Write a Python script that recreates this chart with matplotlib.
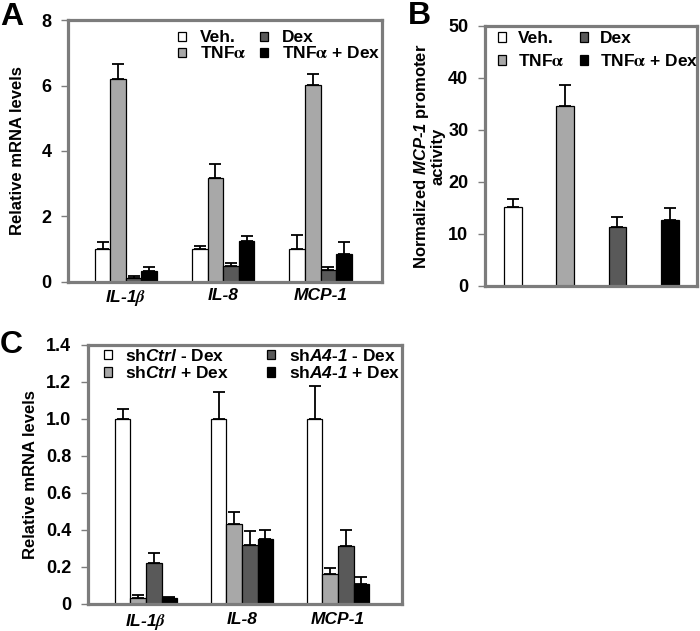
import numpy as np
import matplotlib
matplotlib.use("Agg")
import matplotlib.pyplot as plt

plt.rcParams['font.family'] = ['Liberation Sans', 'DejaVu Sans']
plt.rcParams['font.weight'] = 'bold'
plt.rcParams['mathtext.fontset'] = 'custom'
plt.rcParams['mathtext.rm'] = 'Liberation Sans:italic:bold'
plt.rcParams['mathtext.it'] = 'Liberation Sans:italic:bold'
plt.rcParams['mathtext.cal'] = 'STIXGeneral'
plt.rcParams['mathtext.sf'] = 'STIXGeneral:italic'

# panel A
genes = [r'IL-1$\mathsf{\beta}$', 'IL-8', 'MCP-1']
labels_a = ['Veh.', r'TNF$\mathcal{\alpha}$', 'Dex', r'TNF$\mathcal{\alpha}$ + Dex']
veh = [1.0, 1.0, 1.0]
veh_err = [0.23, 0.11, 0.42]
tnf = [6.2, 3.17, 6.02]
tnf_err = [0.45, 0.44, 0.32]
dex = [0.13, 0.48, 0.37]
dex_err = [0.04, 0.1, 0.09]
tnf_dex = [0.35, 1.24, 0.87]
tnf_dex_err = [0.1, 0.15, 0.36]

# panel B
vals_b = [15.1, 34.6, 11.3, 12.7]
errs_b = [1.6, 4.0, 2.0, 2.2]

# panel C
labels_c = [r'sh$\mathit{Ctrl}$ - Dex', r'sh$\mathit{Ctrl}$ + Dex',
            r'sh$\mathit{A4}$-$\mathit{1}$ - Dex', r'sh$\mathit{A4}$-$\mathit{1}$ + Dex']
ctrl_m = [1.0, 1.0, 1.0]
ctrl_m_err = [0.053, 0.145, 0.18]
ctrl_p = [0.032, 0.434, 0.162]
ctrl_p_err = [0.015, 0.064, 0.035]
a4_m = [0.22, 0.318, 0.315]
a4_m_err = [0.057, 0.076, 0.083]
a4_p = [0.03, 0.353, 0.11]
a4_p_err = [0.006, 0.045, 0.036]

colors = ['white', '#a8a8a8', '#595959', 'black']
frame = '#7c7c7c'


def style(ax):
    for s in ax.spines.values():
        s.set_color(frame)
        s.set_linewidth(2.3)
    ax.tick_params(axis='y', direction='out', length=5, width=1, color=frame,
                   pad=7, labelsize=13)
    for t in ax.get_yticklabels():
        t.set_fontweight('bold')


def bars(ax, x, series, errs, width, labels):
    for i, (v, e) in enumerate(zip(series, errs)):
        ax.bar(x + (i - 1.5) * width, v, width, color=colors[i], edgecolor='black',
               linewidth=0.9, label=labels[i],
               yerr=[np.zeros(len(e)), e],
               error_kw=dict(ecolor='black', elinewidth=1.3, capsize=4, capthick=1.3))


fig = plt.figure(figsize=(7, 6.31), dpi=100)

# A
ax = fig.add_axes([0.0971, 0.5531, 0.4486, 0.4152])
x = np.arange(3)
bars(ax, x, [veh, tnf, dex, tnf_dex], [veh_err, tnf_err, dex_err, tnf_dex_err], 0.16, labels_a)
ax.set_xlim(-0.595, 2.63)
ax.set_ylim(0, 8)
ax.set_yticks([0, 2, 4, 6, 8])
ax.set_xticks(x)
ax.set_xticklabels(genes, fontstyle='italic', fontweight='bold', fontsize=12.5)
ax.tick_params(axis='x', length=0, pad=4)
style(ax)
ax.set_ylabel('Relative mRNA levels', fontsize=12, fontweight='bold', labelpad=12)
ax.legend(ncol=2, loc='upper left', bbox_to_anchor=(0.35, 0.96), frameon=False,
          fontsize=12.5, handlelength=0.45, handleheight=0.45, handletextpad=0.8,
          columnspacing=0.8, labelspacing=0.0, borderpad=0, borderaxespad=0)

# B
ax = fig.add_axes([0.6929, 0.5468, 0.3029, 0.4120])
xb = np.arange(4)
for i in range(4):
    ax.bar(xb[i], vals_b[i], 0.34, color=colors[i], edgecolor='black', linewidth=0.9,
           label=labels_a[i], yerr=[[0], [errs_b[i]]],
           error_kw=dict(ecolor='black', elinewidth=1.3, capsize=4.5, capthick=1.3))
ax.set_xlim(-0.53, 3.52)
ax.set_ylim(0, 50)
ax.set_yticks([0, 10, 20, 30, 40, 50])
ax.set_xticks([])
style(ax)
ax.set_ylabel('Normalized $\\mathit{MCP}$-$\\mathit{1}$ promoter\nactivity', fontsize=12,
              fontweight='bold', labelpad=2, linespacing=0.95)
ax.legend(ncol=2, loc='upper left', bbox_to_anchor=(0.06, 0.98), frameon=False,
          fontsize=12.5, handlelength=0.45, handleheight=0.45, handletextpad=0.7,
          columnspacing=0.9, labelspacing=0.4, borderpad=0, borderaxespad=0)

# C
ax = fig.add_axes([0.1257, 0.0428, 0.4486, 0.4105])
bars(ax, x, [ctrl_m, ctrl_p, a4_m, a4_p], [ctrl_m_err, ctrl_p_err, a4_m_err, a4_p_err],
     0.163, labels_c)
ax.set_xlim(-0.604, 2.667)
ax.set_ylim(0, 1.4)
ax.set_yticks([0, 0.2, 0.4, 0.6, 0.8, 1.0, 1.2, 1.4])
ax.set_yticklabels(['0', '0.2', '0.4', '0.6', '0.8', '1.0', '1.2', '1.4'])
ax.set_xticks(x)
ax.set_xticklabels(genes, fontstyle='italic', fontweight='bold', fontsize=12.5)
ax.tick_params(axis='x', length=0, pad=6)
style(ax)
ax.set_ylabel('Relative mRNA levels', fontsize=12, fontweight='bold', labelpad=6)
ax.legend(ncol=2, loc='upper left', bbox_to_anchor=(0.05, 0.99), frameon=False,
          fontsize=12.5, handlelength=0.45, handleheight=0.45, handletextpad=0.8,
          columnspacing=2.2, labelspacing=0.1, borderpad=0, borderaxespad=0)

fig.text(0.0, 0.997, 'A', fontsize=23, fontweight='bold', va='top', ha='left')
fig.text(0.583, 0.999, 'B', fontsize=23, fontweight='bold', va='top', ha='left')
fig.text(0.0, 0.477, 'C', fontsize=23, fontweight='bold', va='top', ha='left')

fig.savefig('out.png', dpi=100)
